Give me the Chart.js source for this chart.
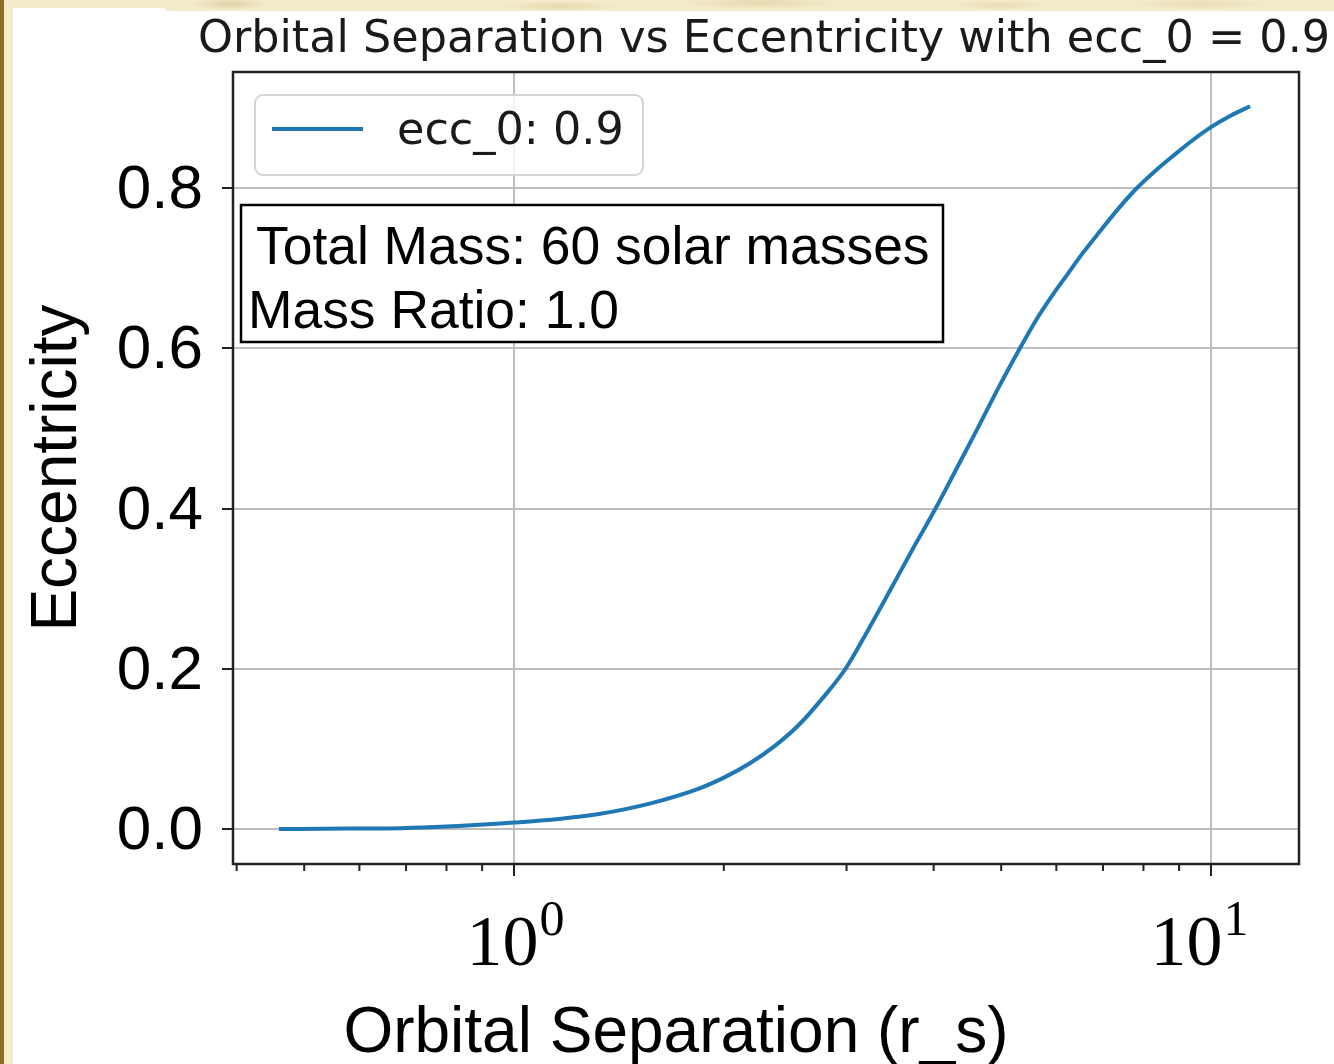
<!DOCTYPE html>
<html>
<head>
<meta charset="utf-8">
<title>Orbital Separation vs Eccentricity</title>
<script src="https://cdn.jsdelivr.net/npm/chart.js@4.4.1/dist/chart.umd.min.js"></script>
<style>
  html, body { margin: 0; padding: 0; }
  body {
    width: 1334px; height: 1064px; position: relative; overflow: hidden;
    background:
      radial-gradient(ellipse 40px 6px at 230px 4px, rgba(190,160,100,0.35), transparent),
      radial-gradient(ellipse 60px 5px at 560px 6px, rgba(200,170,110,0.30), transparent),
      radial-gradient(ellipse 80px 6px at 760px 3px, rgba(205,175,115,0.35), transparent),
      radial-gradient(ellipse 50px 5px at 1000px 5px, rgba(200,170,110,0.25), transparent),
      radial-gradient(ellipse 70px 6px at 1200px 4px, rgba(205,175,115,0.25), transparent),
      #f3ebcb;
  }
  .edge { position: absolute; left: 0; top: 0; bottom: 0; width: 4px; background: #8f6a2a; }
  .sheet { position: absolute; left: 13px; top: 11px; right: 0; bottom: 0; background: #fff; }
  .sheet-tab { position: absolute; left: 13px; top: 8px; width: 152px; height: 4px; background: #fff; }
  canvas { position: absolute; left: 0; top: 0; }
</style>
</head>
<body>
<div class="edge"></div>
<div class="sheet"></div>
<div class="sheet-tab"></div>
<canvas id="chart" width="1334" height="1064"></canvas>
<script>
// orbital separation (r_s) and eccentricity along the inspiral
const separation = [
  0.46, 0.58, 0.69, 0.80, 1.00, 1.16, 1.33, 1.57, 1.85, 2.01, 2.18, 2.37,
  2.57, 2.77, 2.99, 3.21, 3.46, 3.72, 4.02, 4.31, 4.62, 4.95, 5.32, 5.61,
  5.91, 6.22, 6.55, 6.93, 7.36, 7.83, 8.31, 8.85, 9.39, 10.0, 10.65, 11.38
];
const eccentricity = [
  0.000, 0.0005, 0.001, 0.003, 0.008, 0.0125, 0.019, 0.032, 0.051, 0.065, 0.082, 0.104,
  0.131, 0.163, 0.200, 0.246, 0.297, 0.347, 0.399, 0.449, 0.499, 0.550, 0.600, 0.635,
  0.665, 0.692, 0.719, 0.746, 0.774, 0.800, 0.821, 0.841, 0.859, 0.876, 0.890, 0.902
];

const seriesLabel = 'ecc_0: 0.9';
const yTicks = [0.0, 0.2, 0.4, 0.6, 0.8];
const xMajorTicks = [1, 10];
const xTickExponents = ['0', '1'];
const xTickShift = [1, -12];
const xMinorTicks = [0.4, 0.5, 0.6, 0.7, 0.8, 0.9, 2, 3, 4, 5, 6, 7, 8, 9];
const infoLines = ['Total Mass: 60 solar masses', 'Mass Ratio: 1.0'];

const LINE_BLUE = '#1f77b4';
const GRID_GREY = '#bdbdbd';
const INK = '#1a1a1a';

// title, legend, text box, x tick labels and the axes frame
const figureDecor = {
  id: 'figureDecor',
  afterDraw(chart) {
    const { ctx, chartArea: ca, scales: { x } } = chart;
    ctx.save();

    // x tick marks (major + minor), drawn outward
    ctx.strokeStyle = '#222';
    ctx.lineWidth = 2;
    ctx.beginPath();
    xMinorTicks.forEach(v => {
      const px = x.getPixelForValue(v);
      ctx.moveTo(px, ca.bottom);
      ctx.lineTo(px, ca.bottom + 7);
    });
    xMajorTicks.forEach(v => {
      const px = x.getPixelForValue(v);
      ctx.moveTo(px, ca.bottom);
      ctx.lineTo(px, ca.bottom + 12);
    });
    ctx.stroke();

    // frame
    ctx.lineWidth = 2.5;
    ctx.strokeRect(ca.left, ca.top, ca.right - ca.left, ca.bottom - ca.top);

    // x tick labels as powers of ten
    ctx.fillStyle = '#000';
    ctx.textBaseline = 'alphabetic';
    ctx.textAlign = 'left';
    xMajorTicks.forEach((v, i) => {
      const px = x.getPixelForValue(v) + xTickShift[i];
      ctx.font = '72px "Liberation Serif"';
      const wBase = ctx.measureText('10').width;
      ctx.font = '50px "Liberation Serif"';
      const wExp = ctx.measureText(xTickExponents[i]).width;
      const start = px - (wBase + wExp) / 2;
      ctx.font = '72px "Liberation Serif"';
      ctx.fillText('10', start, ca.bottom + 101);
      ctx.font = '50px "Liberation Serif"';
      ctx.fillText(xTickExponents[i], start + wBase + 1, ca.bottom + 71);
    });

    // x axis title
    ctx.font = '64px "Liberation Sans"';
    ctx.textAlign = 'center';
    ctx.fillText('Orbital Separation (r_s)', 676, ca.bottom + 188);

    // chart title
    ctx.fillStyle = INK;
    ctx.font = '44.5px "DejaVu Sans"';
    ctx.fillText('Orbital Separation vs Eccentricity with ecc_0 = ' + '0.9', 764, ca.top - 20);

    // legend
    const lx = ca.left + 22, ly = ca.top + 23;
    ctx.beginPath();
    ctx.roundRect(lx, ly, 388, 80, 8);
    ctx.fillStyle = 'rgba(255,255,255,0.8)';
    ctx.fill();
    ctx.strokeStyle = '#d4d4d4';
    ctx.lineWidth = 2;
    ctx.stroke();
    ctx.beginPath();
    ctx.moveTo(lx + 17, ly + 34);
    ctx.lineTo(lx + 108, ly + 34);
    ctx.strokeStyle = chart.data.datasets[0].borderColor;
    ctx.lineWidth = 4;
    ctx.stroke();
    ctx.fillStyle = INK;
    ctx.textAlign = 'left';
    ctx.font = '44.5px "DejaVu Sans"';
    ctx.fillText(chart.data.datasets[0].label, lx + 142, ly + 49);

    // parameter box
    const bx = ca.left + 8, by = ca.top + 133;
    ctx.fillStyle = '#fff';
    ctx.fillRect(bx, by, 702, 137);
    ctx.strokeStyle = '#000';
    ctx.lineWidth = 2.5;
    ctx.strokeRect(bx, by, 702, 137);
    ctx.fillStyle = '#000';
    ctx.font = '53.4px "Liberation Sans"';
    ctx.fillText(infoLines[0], bx + 15, by + 59);
    ctx.fillText(infoLines[1], bx + 7, by + 123);

    ctx.restore();
  }
};

new Chart(document.getElementById('chart'), {
  type: 'line',
  data: {
    datasets: [{
      label: seriesLabel,
      data: separation.map((s, i) => ({ x: s, y: eccentricity[i] })),
      borderColor: LINE_BLUE,
      borderWidth: 4,
      pointRadius: 0,
      fill: false,
      cubicInterpolationMode: 'monotone'
    }]
  },
  options: {
    responsive: false,
    animation: false,
    devicePixelRatio: 1,
    layout: { padding: { left: 0, right: 35, top: 72, bottom: 0 } },
    plugins: {
      legend: { display: false },
      title: { display: false },
      tooltip: { enabled: false }
    },
    scales: {
      x: {
        type: 'logarithmic',
        min: Math.pow(10, -0.4032),
        max: Math.pow(10, 1.1263),
        afterBuildTicks: scale => { scale.ticks = xMajorTicks.map(value => ({ value })); },
        afterFit: scale => { scale.height = 200; },
        ticks: { display: false },
        grid: { color: GRID_GREY, lineWidth: 2, drawTicks: false },
        border: { display: false }
      },
      y: {
        type: 'linear',
        min: -0.0437,
        max: 0.9448,
        afterBuildTicks: scale => { scale.ticks = yTicks.map(value => ({ value })); },
        afterFit: scale => { scale.width = 233; },
        ticks: {
          color: '#000',
          font: { family: 'Liberation Sans', size: 62 },
          padding: 19,
          labelOffset: 3,
          callback: v => Number(v).toFixed(1)
        },
        grid: {
          color: GRID_GREY, lineWidth: 2,
          drawTicks: true, tickLength: 11, tickColor: '#222', tickWidth: 2
        },
        border: { display: false },
        title: {
          display: true,
          text: 'Eccentricity',
          color: '#000',
          font: { family: 'Liberation Sans', size: 64, lineHeight: 1 },
          padding: { top: 26, bottom: 0 }
        }
      }
    }
  },
  plugins: [figureDecor]
});
</script>
</body>
</html>
